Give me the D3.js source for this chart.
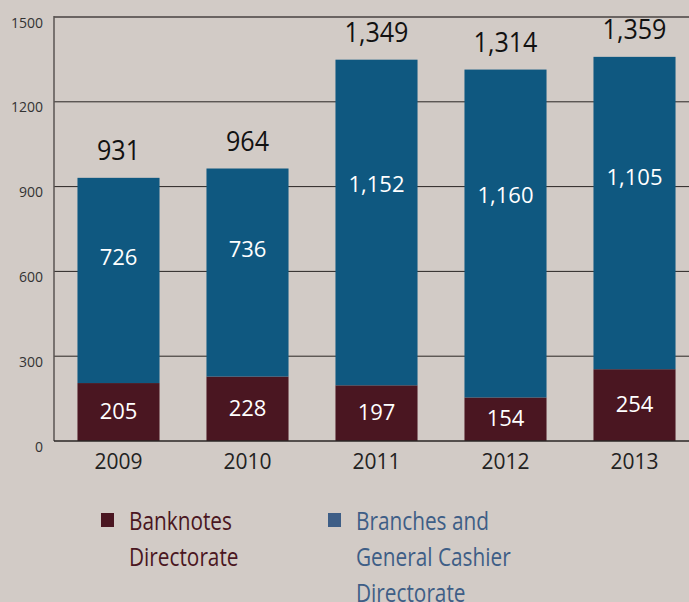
<!DOCTYPE html>
<html><head><meta charset="utf-8">
<script src="https://cdn.jsdelivr.net/npm/d3@7"></script>
<style>
html,body{margin:0;padding:0;background:#d2cbc6;}
svg{display:block;}
text{font-family:"Open Sans",sans-serif;}
</style></head>
<body><svg id="c" width="689" height="602"></svg>
<script>
const years = ["2009","2010","2011","2012","2013"];
const banknotes = [205,228,197,154,254];
const branches = [726,736,1152,1160,1105];
const totals = [931,964,1349,1314,1359];
const yTicks = [0,300,600,900,1200,1500];
const legendItems = [
  {lines:["Banknotes","Directorate"], key:"bank"},
  {lines:["Branches and","General Cashier","Directorate"], key:"branch"}
];
const colors = {bank:"#4a1621", branch:"#0f5880"};
const legendText = {bank:"#4a1621", branch:"#3e5e86"};

const svg = d3.select("#c");
const x = d3.scaleBand().domain(years).range([54,699]).paddingInner(0.364).paddingOuter(0.182);
const y = d3.scaleLinear().domain([0,1500]).range([441,17]);
const fmt = d3.format(",");

// gridlines
svg.append("g").selectAll("line").data(yTicks.filter(d=>d>0 && d<1500)).join("line")
  .attr("x1",54).attr("x2",689).attr("y1",d=>y(d)).attr("y2",d=>y(d))
  .attr("stroke","#2a2624").attr("stroke-width",1);
// top line
svg.append("line").attr("x1",54).attr("x2",689).attr("y1",y(1500)).attr("y2",y(1500))
  .attr("stroke","#6a6462").attr("stroke-width",2);

// tick labels
svg.append("g").selectAll("text").data(yTicks).join("text")
  .attr("x",43).attr("y",d=>y(d)+5).attr("text-anchor","end").attr("dominant-baseline","central")
  .attr("font-size",14).attr("fill","#333").text(d=>d);

const data = years.map((yr,i)=>({yr,b:banknotes[i],r:branches[i],t:totals[i]}));
const g = svg.append("g");
g.selectAll("rect.b").data(data).join("rect").attr("class","b")
  .attr("x",d=>x(d.yr)).attr("width",x.bandwidth())
  .attr("y",d=>y(d.b)).attr("height",d=>y(0)-y(d.b)).attr("fill",colors.bank);
g.selectAll("rect.r").data(data).join("rect").attr("class","r")
  .attr("x",d=>x(d.yr)).attr("width",x.bandwidth())
  .attr("y",d=>y(d.b+d.r)).attr("height",d=>y(d.b)-y(d.b+d.r)).attr("fill",colors.branch);

// axes lines
svg.append("line").attr("x1",54).attr("x2",54).attr("y1",y(1500)-1).attr("y2",y(0))
  .attr("stroke","#5a5452").attr("stroke-width",1.5);
svg.append("line").attr("x1",54).attr("x2",689).attr("y1",y(0)).attr("y2",y(0))
  .attr("stroke","#2a2624").attr("stroke-width",1.5);

// labels
g.selectAll("text.t").data(data).join("text").attr("class","t")
  .attr("transform",d=>`translate(${x(d.yr)+x.bandwidth()/2},${y(d.t)-18}) scale(0.93,1)`)
  .attr("text-anchor","middle")
  .attr("font-size",27).attr("fill","#111").text(d=>fmt(d.t));
g.selectAll("text.bl").data(data).join("text").attr("class","bl")
  .attr("x",d=>x(d.yr)+x.bandwidth()/2).attr("y",d=>(y(0)+y(d.b))/2-2).attr("text-anchor","middle")
  .attr("dominant-baseline","central").attr("font-size",22).attr("fill","#fff").text(d=>fmt(d.b));
g.selectAll("text.rl").data(data).join("text").attr("class","rl")
  .attr("x",d=>x(d.yr)+x.bandwidth()/2).attr("y",d=>y(d.b+d.r*0.62)).attr("text-anchor","middle")
  .attr("dominant-baseline","central").attr("font-size",22).attr("fill","#fff").text(d=>fmt(d.r));
svg.selectAll("text.yr").data(years).join("text").attr("class","yr")
  .attr("x",d=>x(d)+x.bandwidth()/2).attr("y",469).attr("text-anchor","middle")
  .attr("font-size",21).attr("fill","#222").text(d=>d);

// legend
const lx = [101,328];
legendItems.forEach((it,i)=>{
  const lg = svg.append("g").attr("transform",`translate(${lx[i]},513)`);
  lg.append("rect").attr("width",13).attr("height",14).attr("fill",legendText[it.key]);
  lg.selectAll("text").data(it.lines).join("text")
    .attr("transform",(d,j)=>`translate(28,${17+j*36}) scale(0.8,1)`).attr("font-size",26)
    .attr("fill",legendText[it.key]).text(d=>d);
});
</script></body></html>
